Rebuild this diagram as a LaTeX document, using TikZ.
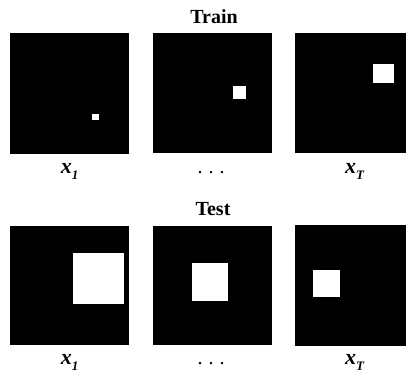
\documentclass[tikz,border=0pt]{standalone}
\usepackage{fontspec}
\setmainfont{Liberation Serif}
\begin{document}
\begin{tikzpicture}[x=1pt,y=-1pt,
  title/.style={font=\fontsize{20}{20}\selectfont\bfseries, anchor=base, inner sep=0pt},
  lab/.style={font=\fontsize{22}{22}\selectfont\bfseries\itshape, anchor=base, inner sep=0pt},
  dots/.style={font=\fontsize{20}{20}\selectfont, anchor=base, inner sep=0pt},
  panel/.style={fill=black},
  blob/.style={fill=white}]
\useasboundingbox (0,0) rectangle (406,371);
\clip (0,0) rectangle (406,371);
% titles
\node[title] (train) at (214,24) {Train};
\node[title] (test) at (213,215) {Test};
% train panels
\fill[panel] (10,33.3) rectangle (129.3,154);
\fill[panel] (152.7,33.3) rectangle (272,153.3);
\fill[panel] (295.3,33.3) rectangle (414.3,153.3);
\fill[blob] (91.7,114.3) rectangle (99.3,120);
\fill[blob] (232.7,86) rectangle (246,99);
\fill[blob] (373.3,63.7) rectangle (394.3,82.7);
% test panels
\fill[panel] (10,226) rectangle (129.3,345);
\fill[panel] (152.7,226) rectangle (272,345);
\fill[panel] (295.3,225) rectangle (414.3,346);
\fill[blob] (73,253.3) rectangle (123.7,304);
\fill[blob] (191.7,263) rectangle (227.7,300.7);
\fill[blob] (313.3,270) rectangle (340,296.7);
% labels
\node[lab] (a1) at (69.5,173.3) {x\raisebox{-0.3em}{\fontsize{13}{13}\selectfont 1}};
\node[dots] (a2) at (211,173.3) {.\hspace{0.3em}.\hspace{0.3em}.};
\node[lab] (a3) at (354.5,173.3) {x\raisebox{-0.3em}{\fontsize{13}{13}\selectfont T}};
\node[lab] (b1) at (69.5,364) {x\raisebox{-0.3em}{\fontsize{13}{13}\selectfont 1}};
\node[dots] (b2) at (211,364) {.\hspace{0.3em}.\hspace{0.3em}.};
\node[lab] (b3) at (354.5,364) {x\raisebox{-0.3em}{\fontsize{13}{13}\selectfont T}};
\end{tikzpicture}
\end{document}
